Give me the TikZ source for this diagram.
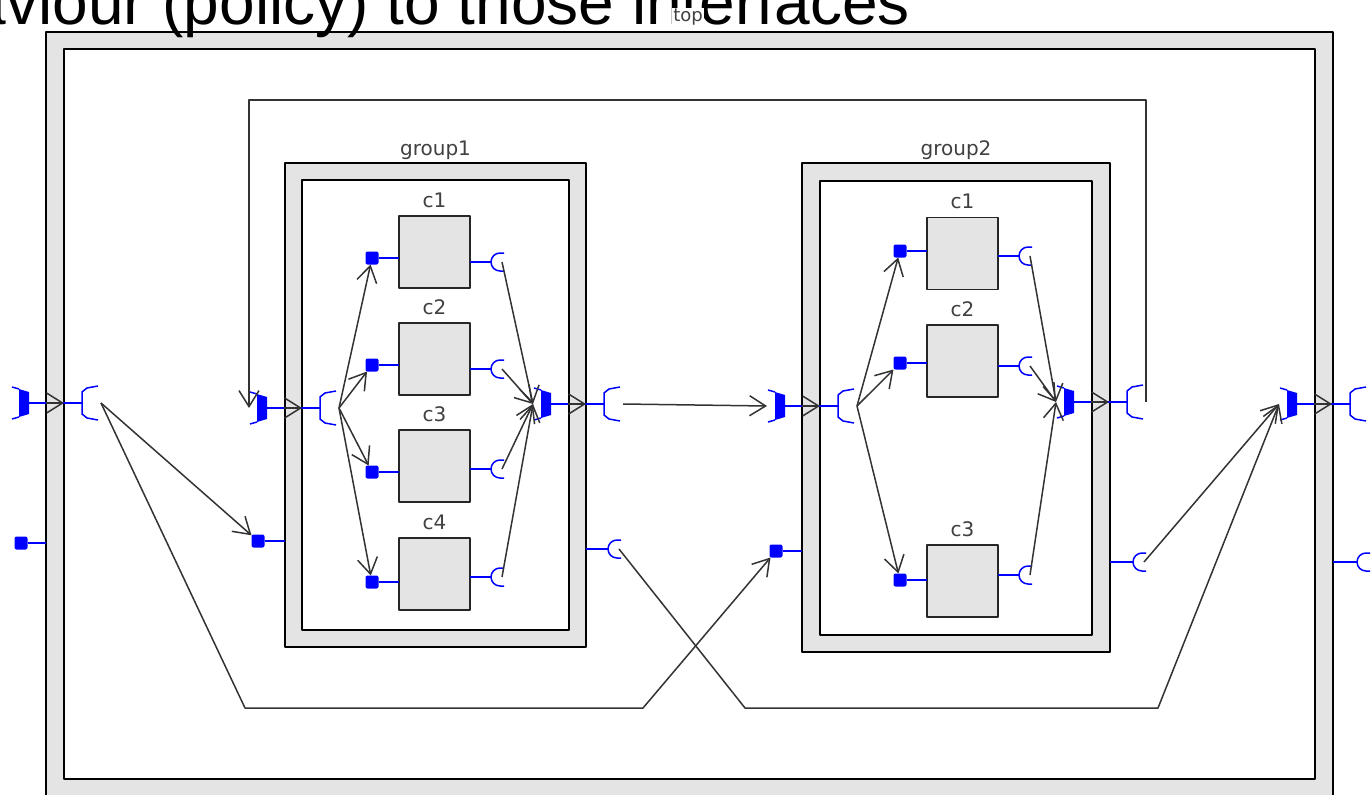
\documentclass[tikz,border=0pt]{standalone}
\usepackage{fontspec}
\newfontfamily\guifont{DejaVu Sans}
\newfontfamily\slidefont{Liberation Sans}
\usetikzlibrary{arrows.meta}
\definecolor{panelgray}{HTML}{E4E4E4}
\definecolor{itfblue}{HTML}{0000FF}

\begin{document}
\begin{tikzpicture}[
  x=1pt, y=-1pt,
  line join=round,
  frame/.style={draw=black,fill=panelgray,line width=2pt,inner sep=0pt,outer sep=0pt},
  pane/.style={draw=black,fill=white,line width=2pt,inner sep=0pt,outer sep=0pt},
  comp/.style={draw=black!85,fill=panelgray,line width=1.4pt,minimum width=71pt,minimum height=72pt,inner sep=0pt,outer sep=0pt},
  prov/.style={fill=itfblue,rounded corners=2pt,minimum size=13pt,inner sep=0pt,outer sep=0pt},
  itf/.style={draw=itfblue,line width=1.5pt},
  wire/.style={draw=black!80,line width=1.5pt},
  bind/.style={wire,-{Straight Barb[length=16pt,width=20pt]}},
  lbl/.style={font=\guifont\fontsize{20}{20}\selectfont,text=black!75},
  % delegated interface: server side left of the border, client side right of it
  deleg/.pic={
    \fill[itfblue] (-27,-14) -- (-17,-11) -- (-17,11) -- (-27,14) -- cycle;
    \draw[itf] (-34,-16) -- (-27,-14) (-34,16) -- (-27,14);
    \draw[itf] (-17,0) -- (36,0);
    \draw[itf] (52,-17) -- (41,-15) -- (36,-11) -- (36,11) -- (41,15) -- (52,17);
    \draw[bind] (0,0) -- (18,0);
    \coordinate (-srv) at (-35,0);
    \coordinate (-cli) at (55,0);
  },
  % required interface cup, opening to the right
  cup/.pic={
    \draw[itf] (4,9) -- (0,9) arc[start angle=90,end angle=270,radius=9] -- (4,-9);
    \coordinate (-tip) at (2,0);
    \coordinate (-stem) at (-9,0);
  }
]
  \useasboundingbox (0,0) rectangle (1371,795);
  \clip (0,0) rectangle (1371,795);

  % top composite
  \node[frame,minimum width=1287pt,minimum height=780pt] (top) at (689.5,422) {};
  \node[pane,minimum width=1251pt,minimum height=730pt] (toppane) at (689.5,414) {};

  % group frames
  \node[frame,minimum width=301pt,minimum height=484pt,label={[lbl]above:group1}] (g1) at (435.5,405) {};
  \node[pane,minimum width=267pt,minimum height=450pt] (g1pane) at (435.5,405) {};
  \node[frame,minimum width=308pt,minimum height=489pt,label={[lbl]above:group2}] (g2) at (956,407.5) {};
  \node[pane,minimum width=272pt,minimum height=454pt] (g2pane) at (956,408) {};

  % delegated interfaces on the borders
  \pic (topL) at (46,403) {deleg};
  \pic (topR) at (1314,404) {deleg};
  \pic (g1L) at (284,408) {deleg};
  \pic (g1R) at (568,404) {deleg};
  \pic (g2L) at (802,406) {deleg};
  \pic (g2R) at (1091,402) {deleg};

  % interfaces without an inner side
  \node[prov] (topP) at (21,543) {};
  \draw[itf] (topP) -- (top.west |- topP);
  \pic (topQ) at (1366,562) {cup};
  \draw[itf] (top.east |- topQ-stem) -- (topQ-stem);
  \node[prov] (g1P) at (258,541) {};
  \draw[itf] (g1P) -- (g1.west |- g1P);
  \pic (g1Q) at (617,549) {cup};
  \draw[itf] (g1.east |- g1Q-stem) -- (g1Q-stem);
  \node[prov] (g2P) at (776,551) {};
  \draw[itf] (g2P) -- (g2.west |- g2P);
  \pic (g2Q) at (1142,562) {cup};
  \draw[itf] (g2.east |- g2Q-stem) -- (g2Q-stem);

  % components of group1
  \foreach \c/\cy/\py/\qy in {c1/252/258/262,c2/359/365/369,c3/466/472/469,c4/574/582/577} {
    \node[comp,label={[lbl,label distance=5pt]above:\c}] (g1\c) at (434.5,\cy) {};
    \node[prov] (g1\c-p) at (372,\py) {};
    \pic (g1\c-q) at (500,\qy) {cup};
    \draw[itf] (g1\c-p) -- (g1\c.west |- g1\c-p);
    \draw[itf] (g1\c.east |- g1\c-q-stem) -- (g1\c-q-stem);
    \draw[bind] (g1L-cli) -- (g1\c-p);
    \draw[bind] (g1\c-q-tip) -- (g1R-srv);
  }

  % components of group2
  \foreach \c/\cy/\py/\qy in {c1/253.5/251/256,c2/361/363/366,c3/581/580/575} {
    \node[comp,label={[lbl,label distance=5pt]above:\c}] (g2\c) at (962.5,\cy) {};
    \node[prov] (g2\c-p) at (900,\py) {};
    \pic (g2\c-q) at (1028,\qy) {cup};
    \draw[itf] (g2\c-p) -- (g2\c.west |- g2\c-p);
    \draw[itf] (g2\c.east |- g2\c-q-stem) -- (g2\c-q-stem);
    \draw[bind] (g2L-cli) -- (g2\c-p);
    \draw[bind] (g2\c-q-tip) -- (g2R-srv);
  }

  % bindings between the groups
  \coordinate (b1) at (245,708);
  \coordinate (b2) at (643,708);
  \coordinate (b3) at (745,708);
  \coordinate (b4) at (1158,708);
  \coordinate (loop) at (249,100);
  \draw[bind] (topL-cli) -- (g1P);
  \draw[bind] (topL-cli) -- (b1) -- (b2) -- (g2P);
  \draw[bind] (g1Q-tip) -- (b3) -- (b4) -- (topR-srv);
  \draw[bind] (g2Q-tip) -- (topR-srv);
  \draw[bind] (g1R-cli) -- (g2L-srv);
  \draw[bind] (g2R-cli) |- (loop) -- (g1L-srv);

  % slide heading above the screenshot, cut off at the top
  \node[anchor=base east,font=\slidefont\fontsize{64}{64}\selectfont,inner sep=0pt] (heading) at (910,24) {behaviour (policy) to those interfaces};
  \node[lbl,font=\guifont\fontsize{18}{18}\selectfont,fill=white,inner sep=1pt] (topname) at (688,17) {top};
\end{tikzpicture}
\end{document}
